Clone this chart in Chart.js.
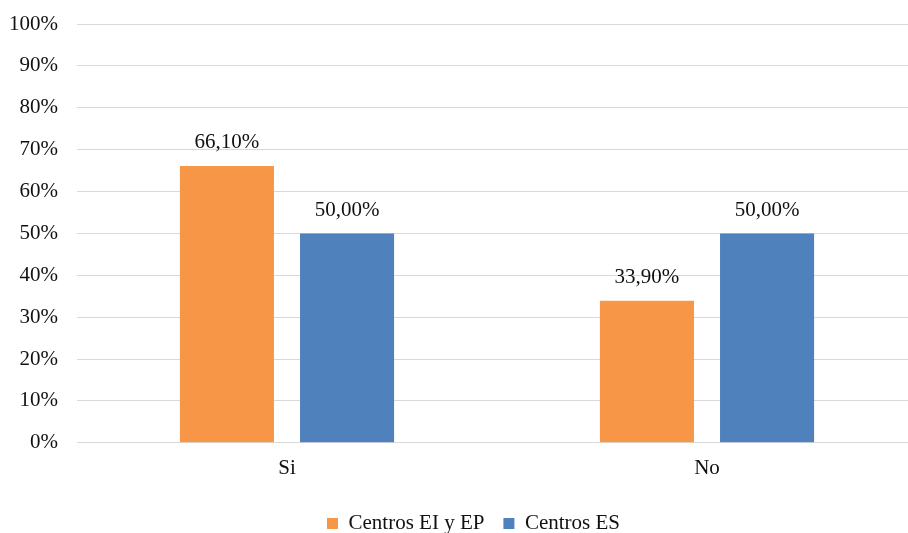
<!DOCTYPE html>
<html>
<head>
<meta charset="utf-8">
<script src="https://cdn.jsdelivr.net/npm/chart.js@4"></script>
<style>
  html, body { margin: 0; padding: 0; background: #fff; overflow: hidden; }
  #wrap { position: absolute; left: 0; top: 0; width: 917px; height: 533px; }
</style>
</head>
<body>
<div id="wrap"><canvas id="myChart"></canvas></div>
<script>
var categories = ["Si", "No"];
var seriesNames = ["Centros EI y EP", "Centros ES"];
var infantilPrimaria = [66.10, 33.90];
var secundaria = [50.00, 50.00];
var yTicks = [0, 10, 20, 30, 40, 50, 60, 70, 80, 90, 100];

var serif = "'Liberation Serif', 'Times New Roman', serif";

// labels above each bar, like "66,10%"
const valueLabels = {
  id: 'valueLabels',
  afterDatasetsDraw(chart) {
    const ctx = chart.ctx;
    ctx.save();
    ctx.font = "21px " + serif;
    ctx.fillStyle = "#111";
    ctx.textAlign = "center";
    ctx.textBaseline = "middle";
    chart.data.datasets.forEach((ds, i) => {
      chart.getDatasetMeta(i).data.forEach((bar, j) => {
        const txt = ds.data[j].toFixed(2).replace('.', ',') + '%';
        ctx.fillText(txt, bar.x, bar.y - 23);
      });
    });
    ctx.restore();
  }
};

// nudge the legend a bit to the right, as in the original
const legendShift = {
  id: 'legendShift',
  afterLayout(chart) {
    chart.legend.left += 20;
    chart.legend.right += 20;
  }
};

const ctx = document.getElementById('myChart');
var myChart = new Chart(ctx, {
  type: 'bar',
  data: {
    labels: categories,
    datasets: [{
      label: seriesNames[0],
      data: infantilPrimaria,
      backgroundColor: "#F79646",
      categoryPercentage: 0.572,
      barPercentage: 0.783,
    }, {
      label: seriesNames[1],
      data: secundaria,
      backgroundColor: "#4F81BD",
      categoryPercentage: 0.572,
      barPercentage: 0.783,
    }]
  },
  options: {
    responsive: true,
    maintainAspectRatio: false,
    animation: false,
    layout: { padding: { left: -10, top: 24, right: 0, bottom: -11 } },
    scales: {
      x: {
        grid: { display: false, drawTicks: false },
        border: { display: false },
        ticks: { color: "#111", font: { family: serif, size: 21 }, padding: 13.5 },
        afterFit: (axis) => { axis.height -= 1; }
      },
      y: {
        min: 0,
        max: 100,
        afterBuildTicks: (axis) => { axis.ticks = yTicks.map((v) => ({ value: v })); },
        afterFit: (axis) => { axis.paddingTop = 0; },
        grid: { color: "#d9d9d9", lineWidth: 1, drawTicks: false },
        border: { display: false },
        ticks: {
          color: "#111",
          font: { family: serif, size: 21 },
          padding: 19,
          callback: (v) => v + '%'
        },
      },
    },
    plugins: {
      legend: {
        position: 'bottom',
        labels: {
          boxWidth: 11,
          boxHeight: 11,
          padding: 19,
          color: "#111",
          font: { family: serif, size: 21 }
        }
      },
      tooltip: { enabled: false }
    }
  },
  plugins: [valueLabels, legendShift]
});
</script>
</body>
</html>
